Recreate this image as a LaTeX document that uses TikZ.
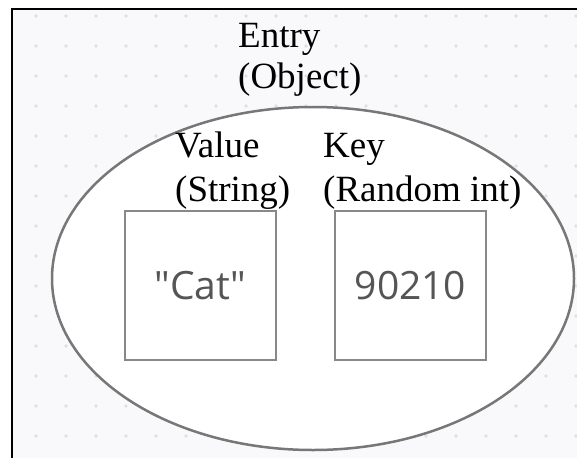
\documentclass[tikz,border=0pt]{standalone}
\usepackage{fontspec}
\setmainfont{Liberation Serif}
\newfontfamily\valfont{Open Sans}
\definecolor{bgfill}{HTML}{F9F9FB}
\definecolor{dotcol}{HTML}{E0E0E2}
\definecolor{shapeline}{HTML}{777777}
\definecolor{boxline}{HTML}{888888}
\definecolor{valtext}{HTML}{555555}
\tikzset{
  lbl/.style={inner sep=0pt, anchor=base west, align=left, font=\fontsize{37}{41}\selectfont, text=black},
  valbox/.style={draw=boxline, line width=2.5pt, fill=white, minimum width=151pt, minimum height=149pt, inner sep=0pt, font=\valfont\fontsize{39}{44}\selectfont, text=valtext},
  entryshape/.style={ellipse, draw=shapeline, line width=2.5pt, fill=white, minimum width=522pt, minimum height=343pt, inner sep=0pt}
}
\usetikzlibrary{shapes.geometric}
\begin{document}
\begin{tikzpicture}[x=1pt,y=-1pt]
\useasboundingbox (0,0) rectangle (577,457);
% canvas
\fill[bgfill] (12,9) rectangle (590,470);
\foreach \i in {0,...,18}{
  \foreach \j in {0,...,14}{
    \fill[dotcol] (36+30*\i,16+30*\j) circle (1.8pt);
  }
}
\draw[black, line width=2.5pt] (12,470) -- (12,9) -- (590,9);
% entry ellipse
\node[entryshape] (entry) at (313,278.5) {};
\node[lbl] (entrylbl) at (238,89) {Entry\\(Object)};
% boxes
\node[valbox] (valuebox) at (200.5,285.5) {"Cat"};
\node[valbox] (keybox) at (410.5,285.5) {90210};
\node[lbl, font=\fontsize{37}{44}\selectfont] (valuelbl) at (175,201) {Value\\(String)};
\node[lbl, font=\fontsize{37}{44}\selectfont] (keylbl) at (323,201) {Key\\(Random int)};
\end{tikzpicture}
\end{document}
